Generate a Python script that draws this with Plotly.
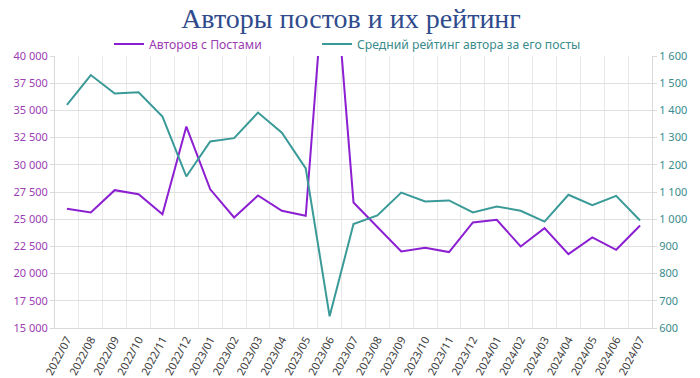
import plotly.graph_objects as go

months = ["2022/07", "2022/08", "2022/09", "2022/10", "2022/11", "2022/12",
          "2023/01", "2023/02", "2023/03", "2023/04", "2023/05", "2023/06",
          "2023/07", "2023/08", "2023/09", "2023/10", "2023/11", "2023/12",
          "2024/01", "2024/02", "2024/03", "2024/04", "2024/05", "2024/06",
          "2024/07"]

authors = [25950, 25620, 27670, 27300, 25460, 33510, 27750, 25160, 27180, 25770,
           25310, 53900, 26540, 24250, 22040, 22370, 21980, 24700, 24940, 22490,
           24180, 21790, 23320, 22190, 24420]

rating = [1420, 1530, 1462, 1467, 1377, 1157, 1286, 1298, 1392, 1318,
          1187, 643, 982, 1014, 1098, 1065, 1069, 1025, 1047, 1031,
          991, 1090, 1052, 1086, 995]

PURPLE = "#8B1FD1"
TEAL = "#3A9A98"
PURPLE_TXT = "#9B3DB3"
TEAL_TXT = "#3A8C8C"

W, H = 700, 378

fig = go.Figure()
fig.add_trace(go.Scatter(
    x=months, y=authors, mode="lines", yaxis="y", legend="legend",
    name="<span style='color:%s'>Авторов с Постами</span>" % PURPLE_TXT,
    line=dict(color=PURPLE, width=2)))
fig.add_trace(go.Scatter(
    x=months, y=rating, mode="lines", yaxis="y2", legend="legend2",
    name="<span style='color:%s'>Средний рейтинг автора за его посты</span>" % TEAL_TXT,
    line=dict(color=TEAL, width=2)))

font_main = "Noto Sans, Open Sans, sans-serif"
leg_common = dict(orientation="h", xref="container", xanchor="left",
                  yref="container", y=1 - 44 / H, yanchor="middle",
                  font=dict(size=12.2), itemwidth=30, bgcolor="rgba(0,0,0,0)")

fig.update_layout(
    width=W, height=H,
    margin=dict(l=55, r=48, t=56, b=50, autoexpand=False),
    paper_bgcolor="white", plot_bgcolor="white",
    separators=", ",
    font=dict(family=font_main, size=11, color="#404040"),
    title=dict(text="Авторы постов и их рейтинг", x=351 / W, xref="container",
               xanchor="center", y=1 - 18 / H, yref="container", yanchor="middle",
               font=dict(family="Liberation Serif", size=28, color="#2F4B8C")),
    showlegend=True,
    legend=dict(x=(149 - 40) / W, **leg_common),
    legend2=dict(x=(357 - 40) / W, **leg_common),
    xaxis=dict(type="category", range=[-0.5, len(months) - 0.5],
               tickson="boundaries", showgrid=True, gridcolor="#e8e8e8",
               ticks="", tickangle=-62, tickfont=dict(size=11, color="#404040"),
               showline=True, linecolor="#d9d9d9", zeroline=False),
    yaxis=dict(range=[15000, 40000], dtick=2500, tickformat=",",
               tickfont=dict(size=11, color=PURPLE_TXT), showgrid=True,
               gridcolor="#e0e0e0", showline=True, linecolor="#d9d9d9",
               ticks="outside", ticklen=4, tickcolor="#d9d9d9", zeroline=False),
    yaxis2=dict(range=[600, 1600], dtick=100, tickformat=",", overlaying="y",
                side="right", showgrid=False,
                tickfont=dict(size=11, color=TEAL_TXT), showline=True,
                linecolor="#d9d9d9", ticks="outside", ticklen=4,
                tickcolor="#d9d9d9", zeroline=False),
)

fig.write_html("out.html", config={"displayModeBar": False},
               post_script="document.body.style.margin='0';document.body.style.overflow='hidden';")
